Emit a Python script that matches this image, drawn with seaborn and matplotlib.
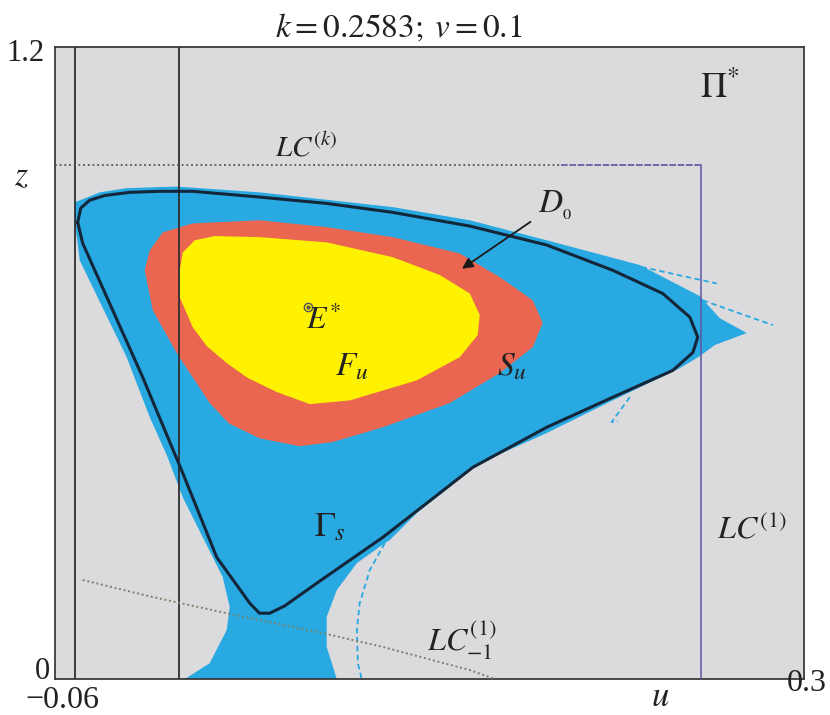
import matplotlib
matplotlib.use("Agg")
import matplotlib.pyplot as plt
import seaborn as sns

# Axis range of the phase plane (u, z)
u_range = (-0.07, 0.3)
z_range = (0.0, 1.2)

# Vertical lines (left part of LC^(k))
vline_u = [-0.06, -0.009]

# LC^(1): horizontal at z_lc, vertical at u_lc
lc1_u = 0.249
lc_z = 0.975
lck_dotted_end = 0.18

# basin D0 (blue) outline
basin_u = [-0.0603, -0.0479, -0.0346, -0.0099, 0.0311, 0.0968, 0.1349, 0.1729,
           0.2189, 0.2485, 0.2584, 0.2717, 0.2559, 0.2485, 0.2386, 0.2055,
           0.1729, 0.1398, 0.1087, 0.0954, 0.0929, 0.0791, 0.0692, 0.0642,
           0.0642, 0.0692, -0.0059, 0.0064, 0.0148, 0.0163, 0.0128, 0.0030,
           -0.0069, -0.0148, -0.0232, -0.0346, -0.0514, -0.0578, -0.0603]
basin_z = [0.905, 0.924, 0.932, 0.935, 0.924, 0.896, 0.871, 0.833,
           0.786, 0.727, 0.685, 0.657, 0.634, 0.613, 0.590, 0.529,
           0.467, 0.410, 0.315, 0.264, 0.258, 0.220, 0.169, 0.118,
           0.061, 0.0, 0.0, 0.030, 0.093, 0.137, 0.194, 0.269,
           0.345, 0.425, 0.497, 0.611, 0.744, 0.795, 0.871]

# S_u (red) outline
red_u = [-0.0257, -0.0232, -0.0168, -0.0020, 0.0311, 0.0642, 0.0968, 0.1299,
         0.1497, 0.1660, 0.1709, 0.1660, 0.1497, 0.1250, 0.0919, 0.0672,
         0.0509, 0.0311, 0.0160, 0.0064, -0.0099, -0.0217]
red_z = [0.776, 0.814, 0.848, 0.865, 0.871, 0.858, 0.839, 0.808,
         0.763, 0.719, 0.676, 0.630, 0.581, 0.524, 0.478, 0.450,
         0.442, 0.457, 0.485, 0.524, 0.619, 0.700]

# F_u (yellow) outline
yellow_u = [-0.0084, -0.0069, -0.0010, 0.0089, 0.0311, 0.0642, 0.0968, 0.1201,
            0.1349, 0.1398, 0.1388, 0.1299, 0.1087, 0.0756, 0.0558, 0.0395,
            0.0250, 0.0148, 0.0050, -0.0020, -0.0084]
yellow_z = [0.776, 0.810, 0.833, 0.841, 0.839, 0.829, 0.801, 0.767,
            0.732, 0.691, 0.653, 0.611, 0.567, 0.529, 0.522, 0.545,
            0.572, 0.600, 0.632, 0.668, 0.725]

# Gamma_s closed curve
gamma_u = [-0.0588, -0.0573, -0.0529, -0.0455, -0.0331, -0.0183, -0.0020, 0.0311,
           0.0642, 0.0968, 0.1349, 0.1729, 0.2055, 0.2302, 0.2436, 0.2475,
           0.2451, 0.2352, 0.2055, 0.1729, 0.1364, 0.0919, 0.0593, 0.0435,
           0.0361, 0.0310, 0.0262, 0.0099, -0.0069, -0.0267, -0.0430, -0.0563,
           -0.0588]
gamma_z = [0.867, 0.894, 0.909, 0.918, 0.924, 0.926, 0.926, 0.915,
           0.903, 0.886, 0.860, 0.824, 0.776, 0.732, 0.687, 0.649,
           0.620, 0.586, 0.535, 0.478, 0.402, 0.269, 0.182, 0.139,
           0.125, 0.125, 0.144, 0.231, 0.391, 0.573, 0.713, 0.827,
           0.867]

# LC_{-1}^{(1)} (green dotted)
lcm1_u = [-0.0563, -0.0232, 0.0148, 0.0623, 0.0919, 0.1349, 0.1472]
lcm1_z = [0.188, 0.157, 0.125, 0.087, 0.061, 0.017, 0.0]

# thin blue filaments of the basin
fil_crescent_u = [0.0929, 0.0855, 0.0805, 0.0791, 0.0796, 0.0815]
fil_crescent_z = [0.258, 0.207, 0.144, 0.093, 0.030, 0.0]
fil_tip1_u = [0.2154, 0.2569]
fil_tip1_z = [0.786, 0.751]
fil_tip2_u = [0.2500, 0.2846]
fil_tip2_z = [0.719, 0.672]
fil_hook_u = [0.2139, 0.2050, 0.2080]
fil_hook_z = [0.535, 0.488, 0.490]

# fixed point E*
e_star = (0.0548, 0.706)

GRAY = "#dbdadd"
BLUE = "#29a9e1"
RED = "#ea6651"
YELLOW = "#fff200"

sns.set_style("white")
plt.rcParams["font.family"] = ["Liberation Serif", "DejaVu Serif"]
plt.rcParams["mathtext.fontset"] = "stix"

fig = plt.figure(figsize=(8.3, 7.15), dpi=100)
ax = fig.add_axes([0.0663, 0.0503, 0.9024, 0.884])
ax.set_facecolor(GRAY)
ax.set_xlim(*u_range)
ax.set_ylim(*z_range)
ax.set_xticks([])
ax.set_yticks([])
for sp in ax.spines.values():
    sp.set_color("#3a3a3a")
    sp.set_linewidth(1.3)

ax.fill(basin_u, basin_z, color=BLUE, lw=0, zorder=1)
ax.fill(red_u, red_z, color=RED, lw=0, zorder=2)
ax.fill(yellow_u, yellow_z, color=YELLOW, lw=0, zorder=3)

for fu, fz in [(fil_crescent_u, fil_crescent_z), (fil_tip1_u, fil_tip1_z),
               (fil_tip2_u, fil_tip2_z), (fil_hook_u, fil_hook_z)]:
    ax.plot(fu, fz, color=BLUE, lw=1.3, ls=(0, (3, 2)), zorder=1.5)

for vu in vline_u:
    ax.axvline(vu, color="#2e2e2e", lw=1.3, zorder=4)

# LC^(k) dotted part and LC^(1)
ax.plot([u_range[0], lck_dotted_end], [lc_z, lc_z], color="#555555",
        lw=1.3, ls=(0, (1, 1.6)), zorder=4)
ax.plot([lck_dotted_end, lc1_u], [lc_z, lc_z], color="#5b58a3",
        lw=1.2, ls=(0, (4, 1)), zorder=4)
ax.plot([lc1_u, lc1_u], [lc_z, 0], color="#5b58a3", lw=1.1, zorder=4)

sns.lineplot(x=lcm1_u, y=lcm1_z, sort=False, estimator=None, ax=ax,
             color="#76826a", lw=1.4, linestyle=(0, (1, 1.4)), zorder=5)
sns.lineplot(x=gamma_u, y=gamma_z, sort=False, estimator=None, ax=ax,
             color="#13263a", lw=2.2, zorder=6)

ax.plot(*e_star, marker="o", ms=6, mfc=YELLOW, mec="#555555", mew=1.0, zorder=7)
ax.plot(*e_star, marker="o", ms=2, color="#555555", zorder=7)

ax.annotate("", xy=(0.1299, 0.776), xytext=(0.1660, 0.871),
            arrowprops=dict(arrowstyle="-|>", color="#1a1a1a", lw=1.3,
                            mutation_scale=16), zorder=8)

txt = dict(color="#222222", zorder=9, ha="center", va="center")
ax.text(0.2584, 1.121, r"$\Pi^{*}$", fontsize=26, **txt)
ax.text(0.0543, 1.009, r"$LC^{(k)}$", fontsize=21, **txt)
ax.text(0.1770, 0.899, r"$D_{_0}$", fontsize=24, **txt)
ax.text(0.0623, 0.681, r"$E^{*}$", fontsize=23, **txt)
ax.text(0.0766, 0.592, r"$F_{u}$", fontsize=24, **txt)
ax.text(0.1556, 0.592, r"$S_{u}$", fontsize=24, **txt)
ax.text(0.0657, 0.288, r"$\Gamma_{s}$", fontsize=25, **txt)
ax.text(0.2742, 0.283, r"$LC^{(1)}$", fontsize=23, **txt)
ax.text(0.1309, 0.074, r"$LC_{-1}^{(1)}$", fontsize=23, **txt)

# axis labels and end values
lab = dict(color="#222222", clip_on=False, va="center")
ax.text(-0.0751, 1.188, "1.2", fontsize=22, ha="right", **lab)
ax.text(-0.0761, 0.014, "0", fontsize=22, ha="center", **lab)
ax.text(-0.0662, -0.040, "\u22120.06", fontsize=23, ha="center", **lab)
ax.text(0.3014, -0.008, "0.3", fontsize=23, ha="center", **lab)
ax.text(-0.0865, 0.953, r"$z$", fontsize=24, ha="center", **lab)
ax.text(0.2288, -0.036, r"$u$", fontsize=25, ha="center", **lab)

fig.text(0.4807, 0.9608, r"$k = 0.2583;\; v = 0.1$", fontsize=24,
         ha="center", va="center", color="#222222")

fig.savefig("out.png", dpi=100, facecolor="white")
